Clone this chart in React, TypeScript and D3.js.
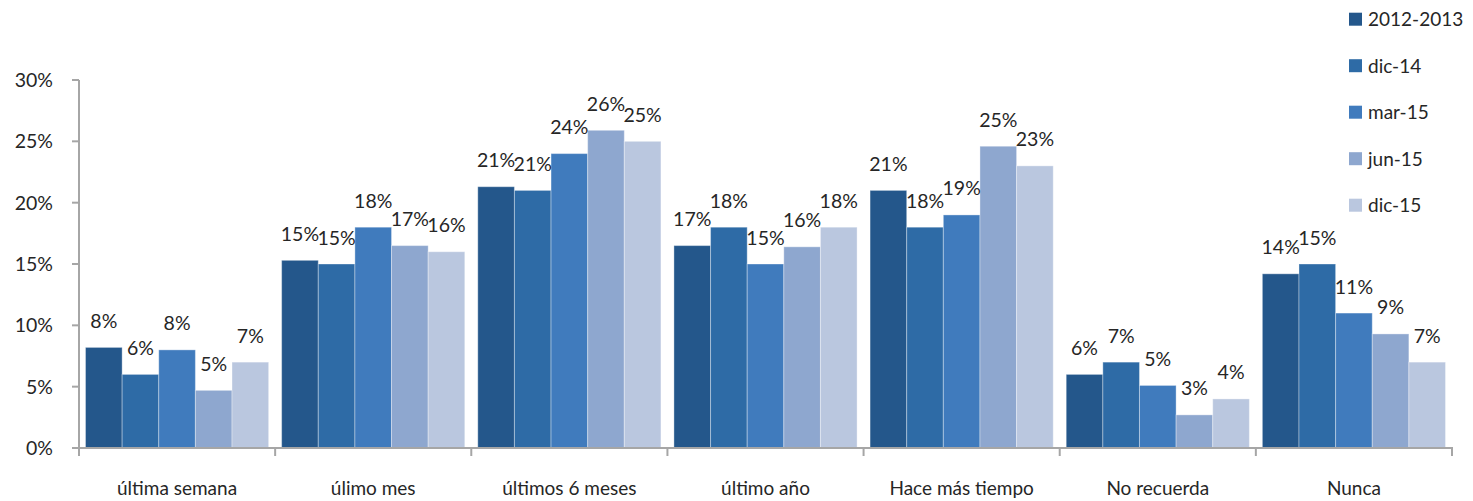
import React from "react";
import * as d3 from "d3";

const categories = ["última semana", "úlimo mes", "últimos 6 meses", "último año", "Hace más tiempo", "No recuerda", "Nunca"];
const seriesNames = ["2012-2013", "dic-14", "mar-15", "jun-15", "dic-15"];
const s2012 = [8.2, 15.3, 21.3, 16.5, 21.0, 6.0, 14.2];
const sDic14 = [6.0, 15.0, 21.0, 18.0, 18.0, 7.0, 15.0];
const sMar15 = [8.0, 18.0, 24.0, 15.0, 19.0, 5.1, 11.0];
const sJun15 = [4.7, 16.5, 25.9, 16.4, 24.6, 2.7, 9.3];
const sDic15 = [7.0, 16.0, 25.0, 18.0, 23.0, 4.0, 7.0];
const yTicks = [0, 5, 10, 15, 20, 25, 30];
const colors = ["#24578B", "#2E6BA6", "#407BBD", "#8EA7CF", "#BAC7DF"];

const seriesValues = [s2012, sDic14, sMar15, sJun15, sDic15];

const W = 1473;
const H = 501;
const FONT = "Lato, 'Open Sans', sans-serif";
const FS = 19.5;
const FS_CAT = 19;
const TEXT = "#262626";
const AXIS = "#A6A6A6";

export default function App() {
  const x = d3.scaleBand<string>().domain(categories).range([79, 1452]).paddingInner(0).paddingOuter(0);
  const bw = x.bandwidth();
  const xs = d3.scaleBand<string>().domain(seriesNames).range([6.5, bw - 6.5]);
  const y = d3.scaleLinear().domain([0, 30]).range([448, 80]);

  return (
    <svg width={W} height={H} style={{ position: "absolute", left: 0, top: 0, background: "#fff" }} fontFamily={FONT}>
      {seriesValues.map((vals, si) =>
        vals.map((v, ci) => {
          const bx = (x(categories[ci]) as number) + (xs(seriesNames[si]) as number);
          return (
            <rect
              key={`b${si}-${ci}`}
              x={bx}
              y={y(v)}
              width={xs.bandwidth()}
              height={y(0) - y(v)}
              fill={colors[si]}
              stroke="#ffffff"
              strokeOpacity={0.35}
              strokeWidth={1}
            />
          );
        })
      )}
      {seriesValues.map((vals, si) =>
        vals.map((v, ci) => {
          const bx = (x(categories[ci]) as number) + (xs(seriesNames[si]) as number) + xs.bandwidth() / 2;
          return (
            <text key={`l${si}-${ci}`} x={bx} y={y(v) - 19.5} textAnchor="middle" fontSize={FS} fill={TEXT}>
              {Math.round(v)}%
            </text>
          );
        })
      )}
      <line x1={79} x2={79} y1={y(30)} y2={y(0)} stroke={AXIS} strokeWidth={2} />
      {yTicks.map((t) => (
        <g key={`yt${t}`}>
          <line x1={72} x2={79} y1={y(t)} y2={y(t)} stroke={AXIS} strokeWidth={2} />
          <text x={53} y={y(t)} dy="0.36em" textAnchor="end" fontSize={FS} fill={TEXT}>
            {t}%
          </text>
        </g>
      ))}
      <line x1={78} x2={1453} y1={y(0)} y2={y(0)} stroke={AXIS} strokeWidth={2} />
      {[...categories.map((c) => x(c) as number), 1452].map((tx, i) => (
        <line key={`xt${i}`} x1={tx} x2={tx} y1={y(0)} y2={y(0) + 8} stroke={AXIS} strokeWidth={2} />
      ))}
      {categories.map((c) => (
        <text key={`c${c}`} x={(x(c) as number) + bw / 2} y={495} textAnchor="middle" fontSize={FS_CAT} fill={TEXT}>
          {c}
        </text>
      ))}
      {seriesNames.map((n, i) => (
        <g key={`lg${n}`} transform={`translate(1349, ${12.7 + i * 46.5})`}>
          <rect x={0} y={0} width={13} height={13} fill={colors[i]} />
          <text x={19} y={6.5} dy="0.36em" fontSize={FS_CAT} fill={TEXT}>
            {n}
          </text>
        </g>
      ))}
    </svg>
  );
}
